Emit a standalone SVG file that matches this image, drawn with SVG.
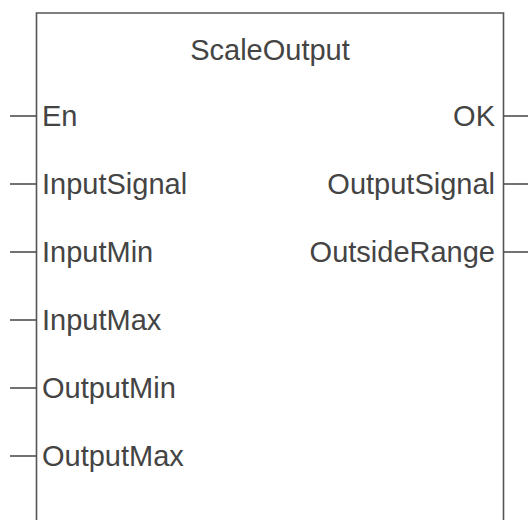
<svg xmlns="http://www.w3.org/2000/svg" width="528" height="520" viewBox="0 0 528 520">
<style>
.b{fill:#fff;stroke:#555;stroke-width:1.6}
.w{stroke:#444;stroke-width:1.3;fill:none}
text{font-family:"Liberation Sans",Arial,sans-serif;font-size:29px;fill:#444}
.r{text-anchor:end}
.c{text-anchor:middle}
</style>
<rect width="528" height="520" fill="#fff"/>
<g id="block">
<path class="b" d="M36.5 540 V13 H503.5 V540"/>
<text class="c" x="270" y="60">ScaleOutput</text>
</g>
<g id="inputs">
<text x="42" y="126">En</text>
<text x="42" y="194">InputSignal</text>
<text x="42" y="262">InputMin</text>
<text x="42" y="330">InputMax</text>
<text x="42" y="398">OutputMin</text>
<text x="42" y="466">OutputMax</text>
</g>
<g id="outputs">
<text class="r" x="495" y="126">OK</text>
<text class="r" x="495" y="194">OutputSignal</text>
<text class="r" x="495" y="262">OutsideRange</text>
</g>
<g id="connectors">
<path class="w" d="M10 116H36M10 184H36M10 252H36M10 320H36M10 388H36M10 456H36M504 116H528M504 184H528M504 252H528"/>
</g>
</svg>
